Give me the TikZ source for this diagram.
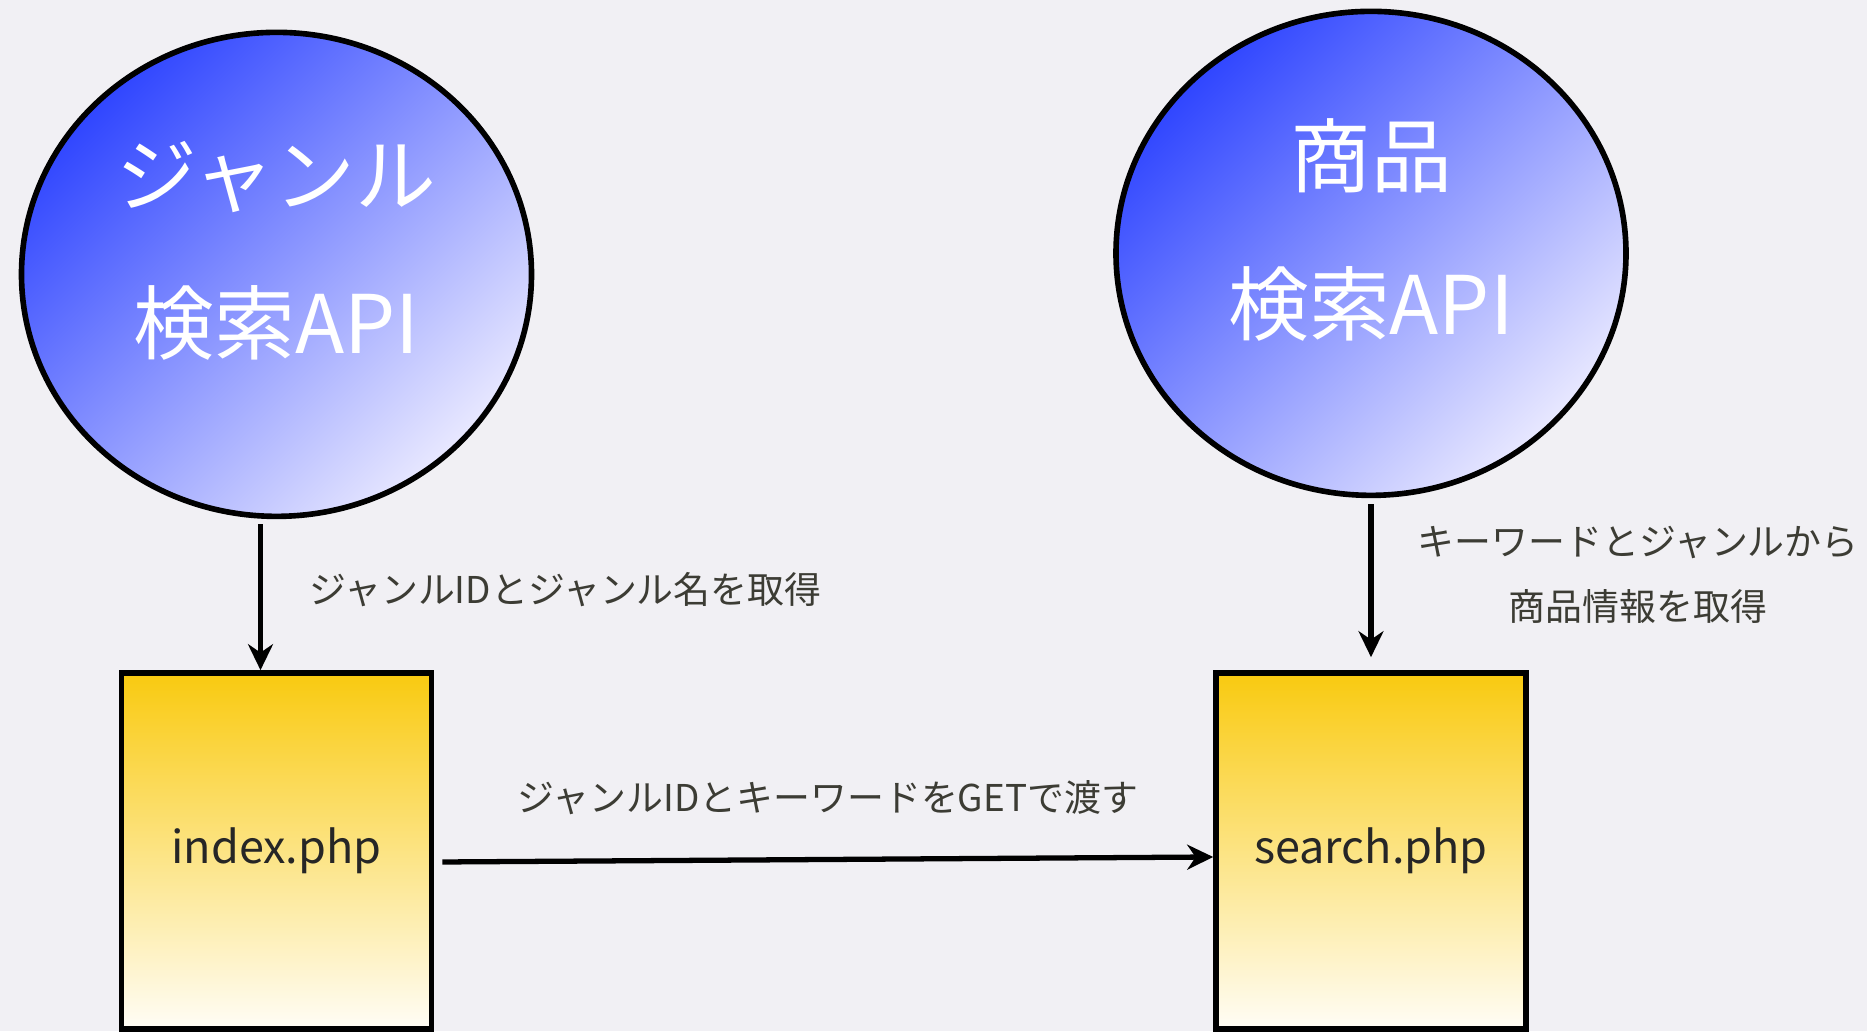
\documentclass[tikz,border=0pt]{standalone}
\usepackage{fontspec}
\setmainfont{Noto Sans CJK JP}
\usetikzlibrary{arrows.meta,positioning,shapes.geometric}
\definecolor{paper}{HTML}{F1F0F4}
\definecolor{apidark}{HTML}{3046FF}
\definecolor{apilight}{HTML}{E8E8FF}
\definecolor{pagegold}{HTML}{F9CA10}
\definecolor{pagecream}{HTML}{FFFDF6}
\definecolor{labelgray}{HTML}{3C3C34}

\begin{document}
\begin{tikzpicture}[
			api/.style={ellipse,draw=black,line width=1.6pt,minimum width=5.1cm,minimum height=4.84cm,left color=apidark,right color=apilight,shading angle=45,text=white,align=center,text depth=5.4mm,font=\fontsize{23}{42}\selectfont},
			page/.style={rectangle,draw=black,line width=1.6pt,minimum width=3.1cm,minimum height=3.56cm,top color=pagegold,bottom color=pagecream,text=black!85,font=\fontsize{12.8}{15}\selectfont},
			arr/.style={-{Stealth[length=2.6mm,width=2.5mm]},line width=1.5pt,black},
			lbl/.style={text=labelgray,font=\fontsize{10.5}{18.4}\selectfont,align=center,inner sep=0pt}
			]
			\fill[paper] (0,0) rectangle (18.67,10.31);
			\node[page] (idx) at (2.765,1.80) {index.php};
			\node[page] (search) at (13.71,1.80) {search.php};
			\node[api] (genre) [above=1.51cm of idx] {ジャンル\\検索API};
			\node[api] (item) [above=1.72cm of search] {商品\\検索API};
			\draw[arr] ([xshift=-1.6mm,yshift=-0.5mm]genre.south) -- ([xshift=-1.6mm]idx.north) node[lbl,pos=0.45,anchor=west,xshift=4.6mm] {ジャンルIDとジャンル名を取得};
			\draw[arr] ([yshift=-0.6mm]item.south) -- ([yshift=1.3mm]search.north) node[lbl,pos=0.46,anchor=west,xshift=4.4mm] {キーワードとジャンルから\\商品情報を取得};
			\draw[arr] ([xshift=0.8mm,yshift=-1.1mm]idx.east) -- ([yshift=-0.6mm]search.west) node[lbl,midway,yshift=6.2mm] {ジャンルIDとキーワードをGETで渡す};
		\end{tikzpicture}
\end{document}
